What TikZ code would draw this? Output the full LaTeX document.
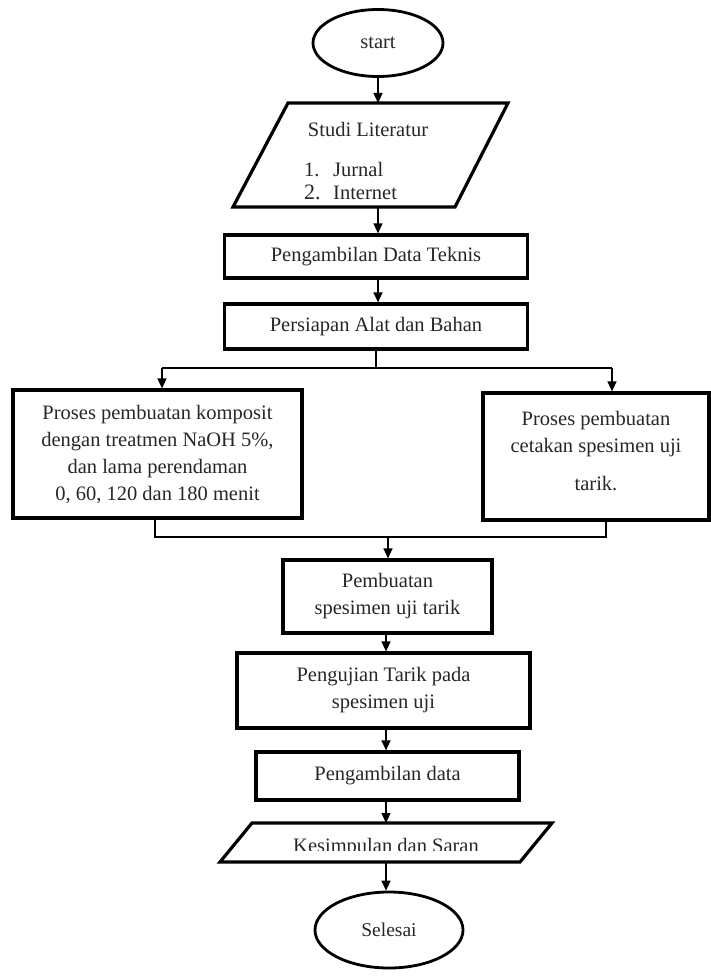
\documentclass[tikz,border=0pt]{standalone}
\usepackage{fontspec}
\setmainfont{Liberation Serif}
\usetikzlibrary{shapes.geometric,arrows.meta}
\newcommand\fsmain{\fontsize{20.5}{27}\selectfont}
\newcommand\fssmall{\fontsize{19.5}{24}\selectfont}
\colorlet{txtc}{black!85}
\begin{document}
\begin{tikzpicture}[x=1pt,y=-1pt,
  box/.style={draw, line width=3.2pt, rectangle, inner sep=0pt, align=center, font=\fsmain, text=txtc},
  oval/.style={draw, ellipse, line width=2.8pt, inner sep=0pt, text=txtc},
  para/.style={draw, line width=3.2pt, line join=miter},
  conn/.style={line width=1.3pt},
  arr/.style={conn, -{Triangle[length=10pt,width=9pt]}},
  txt/.style={inner sep=0pt, align=center, font=\fsmain, text=txtc}]
\useasboundingbox (0,0) rectangle (711,976);

% start
\node[oval, minimum width=130pt, minimum height=67pt, font=\fsmain] (start) at (378,43) {start};

% Studi Literatur (parallelogram)
\draw[para] (288,103) -- (508,103) -- (455,207) -- (233,207) -- cycle;
\coordinate (litN) at (378,103);
\coordinate (litS) at (378,207);
\node[txt, anchor=base] (littitle) at (368,137) {Studi Literatur};
\node[txt, anchor=base west] (lit1) at (304,177) {\makebox[29pt][l]{1.}Jurnal};
\node[txt, anchor=base west] (lit2) at (304,200) {\makebox[29pt][l]{\fontsize{22}{27}\selectfont 2.}Internet};

% rectangles
\node[box, minimum width=303pt, minimum height=43pt] (dt) at (376,256.5) {Pengambilan Data Teknis};
\node[box, minimum width=303pt, minimum height=45pt] (pab) at (376,326.5) {Persiapan Alat dan Bahan};

\node[box, minimum width=289pt, minimum height=128pt] (left) at (157.5,454)
  {Proses pembuatan komposit\\dengan treatmen NaOH 5\%,\\dan lama perendaman\\0, 60, 120 dan 180 menit};
\node[box, minimum width=226pt, minimum height=127pt] (right) at (596,456.5) {};
\node[txt, anchor=base] (rtxt1) at (596,425) {Proses pembuatan};
\node[txt, anchor=base] (rtxt2) at (596,452) {cetakan spesimen uji};
\node[txt, anchor=base] (rtxt3) at (596,490) {tarik.};

\node[box, minimum width=209pt, minimum height=73pt] (pem) at (387.5,596.5) {Pembuatan\\spesimen uji tarik};
\node[box, minimum width=293pt, minimum height=75pt] (uji) at (383.5,690.5) {Pengujian Tarik pada\\spesimen uji};
\node[box, minimum width=263pt, minimum height=48pt] (data) at (387.5,776) {Pengambilan data};

% Kesimpulan dan Saran (parallelogram)
\draw[para] (252,823) -- (552,823) -- (520,862) -- (220,862) -- cycle;
\coordinate (kesN) at (386,823);
\coordinate (kesS) at (386,862);
\begin{scope}
  \clip (220,826) rectangle (552,850);
  \node[txt, font=\fsmain, anchor=base] (kes) at (386,852) {Kesimpulan dan Saran};
\end{scope}

% Selesai
\node[oval, minimum width=148pt, minimum height=76pt, font=\fssmall] (end) at (389,930) {Selesai};

% connectors
\coordinate (ax) at (378,0);
\coordinate (bx) at (386,0);
\draw[arr] (start.south -| ax) -- (litN);
\draw[arr] (litS) -- (dt.north -| ax);
\draw[arr] (dt.south -| ax) -- (pab.north -| ax);

\coordinate (split) at (376,368);
\coordinate (sl) at (162,368);
\coordinate (sr) at (612,368);
\draw[conn] (pab.south) -- (split);
\draw[conn] (sl) -- (sr);
\draw[arr] (sl) -- (sl |- left.north);
\draw[arr] (sr) -- (sr |- right.north);

\coordinate (ml) at (155,537);
\coordinate (mr) at (606,537);
\coordinate (mc) at (388,537);
\draw[conn] (ml |- left.south) -- (ml) -- (mr) -- (mr |- right.south);
\draw[arr] (mc) -- (mc |- pem.north);

\draw[arr] (pem.south -| bx) -- (uji.north -| bx);
\draw[arr] (uji.south -| bx) -- (data.north -| bx);
\draw[arr] (data.south -| bx) -- (kesN);
\draw[arr] (kesS) -- (kesS |- end.north);
\end{tikzpicture}
\end{document}
